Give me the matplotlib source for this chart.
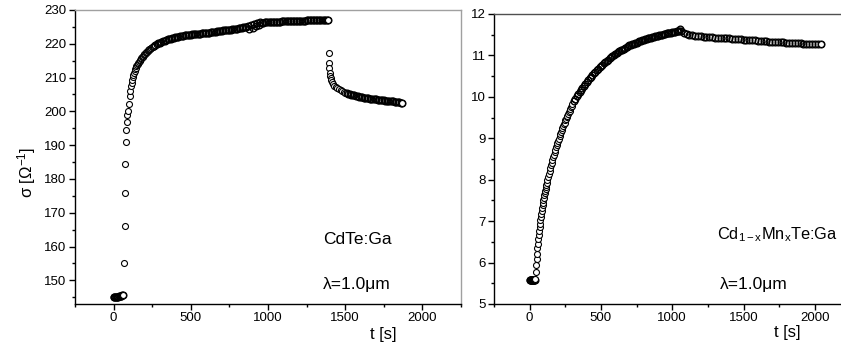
import numpy as np
import matplotlib
matplotlib.use("Agg")
import matplotlib.pyplot as plt
from matplotlib.ticker import MultipleLocator

plt.rcParams['font.family'] = ['Liberation Sans', 'DejaVu Sans']
plt.rcParams['mathtext.fontset'] = 'custom'
plt.rcParams['mathtext.rm'] = 'Liberation Sans'
plt.rcParams['mathtext.it'] = 'Liberation Sans:italic'

# ---- CdTe:Ga (left) : (start time, time step, sigma values) ----
cdte_dark = (0, 5, [145.0, 145.1, 145.0, 145.1, 145.2, 145.1, 145.2, 145.3, 145.3,
                    145.4, 145.5, 145.6, 145.8])
cdte_jump = (68, 3, [155.1, 166.2, 175.9, 184.4, 191.0, 194.5, 197.0, 199.0])
cdte_rise = (96, 4, [200.0, 202.3, 204.5, 206.1, 207.5, 208.5, 209.4, 210.1, 210.8,
                     211.4, 212.0, 212.5, 212.9, 213.3, 213.7, 214.0, 214.3, 214.6,
                     214.9, 215.2, 215.5, 215.8, 216.0, 216.2, 216.5, 216.7, 216.9,
                     217.1, 217.3, 217.5, 217.7, 217.9, 218.1, 218.3, 218.4, 218.6,
                     218.8, 218.9, 219.0, 219.1])
cdte_plateau = (260, 10, [219.3, 219.6, 219.9, 220.1, 220.3, 220.5, 220.7, 220.9, 221.1,
                          221.3, 221.4, 221.5, 221.7, 221.8, 221.9, 222.0, 222.1, 222.3,
                          222.35, 222.4, 222.5, 222.5, 222.6, 222.6, 222.7,
                          222.75, 222.8, 222.85, 222.9, 222.95, 223.0, 223.05, 223.1,
                          223.15, 223.2, 223.3, 223.3, 223.4, 223.4, 223.5,
                          223.6, 223.7, 223.8, 223.8, 223.9,
                          224.0, 224.0, 224.1, 224.1, 224.2, 224.2, 224.3, 224.3,
                          224.4, 224.5, 224.6, 224.7, 224.8, 224.9, 225.0, 225.1, 225.2,
                          224.5, 225.6, 224.8, 226.0, 225.2, 226.2, 225.6, 226.5,
                          226.3, 226.3, 226.35, 226.4, 226.4,
                          226.4, 226.45, 226.45, 226.5, 226.5, 226.5, 226.55, 226.55, 226.6, 226.6,
                          226.6, 226.65, 226.65, 226.7, 226.7, 226.7, 226.75, 226.75, 226.8, 226.8,
                          226.8, 226.85, 226.85, 226.85, 226.9, 226.9, 226.9, 226.95, 226.95, 226.95,
                          227.0, 227.0, 227.0, 227.05, 227.05, 227.05, 227.1, 227.1, 227.1])
cdte_off_t = [1392, 1394, 1396, 1399, 1402, 1405, 1410, 1415, 1420, 1430, 1440, 1450,
              1460, 1470, 1480, 1490, 1500]
cdte_off = [217.4, 214.2, 212.7, 211.3, 210.5, 209.9, 209.2, 208.6, 208.1, 207.6, 207.2,
            206.8, 206.5, 206.2, 205.9, 205.7, 205.5]
cdte_tail = (1510, 10, [205.3, 205.2, 205.0, 204.9, 204.8, 204.7, 204.6, 204.5, 204.4, 204.3,
                        204.2, 204.1, 204.0, 204.0, 203.9, 203.8, 203.8, 203.7, 203.6, 203.6,
                        203.5, 203.4, 203.4, 203.3, 203.3, 203.2, 203.2, 203.1, 203.1, 203.0,
                        203.0, 202.9, 202.9, 202.8, 202.7, 202.6, 202.4])

# ---- Cd1-xMnxTe:Ga (right) ----
cdmn_dark = (0, 3, [5.57, 5.58, 5.58, 5.57, 5.58, 5.59, 5.58, 5.57, 5.58, 5.58, 5.59,
                    5.58, 5.58])
cdmn_rise1 = (40, 3, [5.60, 5.77, 5.93, 6.08, 6.21, 6.34, 6.45, 6.56, 6.67, 6.76, 6.86,
                      6.94, 7.02, 7.10, 7.18, 7.25, 7.31, 7.38, 7.44, 7.50, 7.56, 7.62,
                      7.67, 7.73, 7.78, 7.83, 7.88, 7.93])
cdmn_rise2 = (125, 5, [7.99, 8.07, 8.14, 8.21, 8.28, 8.35, 8.41, 8.48, 8.54, 8.60, 8.66,
                       8.72, 8.78, 8.83, 8.89, 8.94, 8.99, 9.05, 9.10, 9.15, 9.20, 9.24,
                       9.29, 9.34, 9.38, 9.43, 9.47, 9.51, 9.55, 9.59, 9.63, 9.67, 9.71,
                       9.75, 9.79, 9.82])
cdmn_rise3 = (310, 10, [9.89, 9.95, 10.01, 10.07, 10.12, 10.17, 10.22, 10.27, 10.32, 10.36,
                        10.41, 10.45, 10.49, 10.53, 10.57, 10.61, 10.64, 10.68, 10.71, 10.75,
                        10.78, 10.81, 10.85, 10.87, 10.90, 10.93, 10.96, 10.98, 11.01, 11.03,
                        11.06, 11.08, 11.10, 11.12, 11.14, 11.16, 11.18, 11.20, 11.22, 11.24,
                        11.25, 11.27, 11.28, 11.30, 11.31, 11.33, 11.34, 11.35, 11.37, 11.38,
                        11.39, 11.40, 11.41, 11.42, 11.43, 11.44, 11.45, 11.46, 11.47, 11.48,
                        11.49, 11.50, 11.50, 11.51, 11.52, 11.53, 11.54, 11.54, 11.55, 11.56,
                        11.56, 11.57, 11.58, 11.59, 11.60])
cdmn_peak = (1055, 5, [11.63])
cdmn_decay = (1060, 20, [11.60, 11.55, 11.52, 11.50, 11.485, 11.475, 11.465, 11.46, 11.45,
                         11.445, 11.44, 11.435, 11.43, 11.426, 11.422, 11.418, 11.414, 11.41,
                         11.404, 11.398, 11.392, 11.386, 11.38, 11.376, 11.372, 11.368,
                         11.364, 11.36, 11.354, 11.348, 11.342, 11.336, 11.33, 11.326,
                         11.322, 11.318, 11.314, 11.31, 11.306, 11.302, 11.298, 11.294,
                         11.29, 11.287, 11.284, 11.281, 11.278, 11.275, 11.272, 11.27])


def seg(s):
    t0, dt, vals = s
    return t0 + dt * np.arange(len(vals)), np.array(vals)


def style(ax, ylim, ymaj, ymin, top_color, right_color):
    ax.set_xlim(-250, 2250)
    ax.set_ylim(*ylim)
    ax.xaxis.set_major_locator(MultipleLocator(500))
    ax.xaxis.set_minor_locator(MultipleLocator(250))
    ax.yaxis.set_major_locator(MultipleLocator(ymaj))
    ax.yaxis.set_minor_locator(MultipleLocator(ymin))
    ax.tick_params(which='both', direction='out', top=False, right=False, width=1.0,
                   labelsize=9.5, pad=2)
    ax.tick_params(which='major', length=4)
    ax.tick_params(which='minor', length=2.5)
    ax.spines['top'].set_color(top_color)
    ax.spines['right'].set_color(right_color)
    for s in ax.spines.values():
        s.set_linewidth(1.0)


# open circles; where the record is dense the rings merge into a dark band
mk = dict(ls='none', marker='o', ms=4.3, mfc='white', mec='black', mew=0.8)
dense = dict(ls='none', marker='o', ms=4.8, mfc='none', mec='black', mew=1.0)

fig = plt.figure(figsize=(8.41, 3.47), dpi=100)
ax1 = fig.add_axes([75 / 841, 43 / 347, 386 / 841, 294 / 347])
ax2 = fig.add_axes([494 / 841, 43 / 347, 356.5 / 841, 290 / 347])

t, s = seg(cdte_dark)
ax1.plot(t, s, **dense)
ax1.plot(t[-1:], s[-1:], **mk)
ax1.plot(*seg(cdte_jump), **mk)
ax1.plot(*seg(cdte_rise), **mk)
t, s = seg(cdte_plateau)
ax1.plot(t, s, **dense)
ax1.plot(t[-1:], s[-1:], **mk)
ax1.plot(cdte_off_t, cdte_off, **mk)
t, s = seg(cdte_tail)
ax1.plot(t, s, **dense)
ax1.plot(t[-1:], s[-1:], **mk)

t, s = seg(cdmn_dark)
ax2.plot(t, s, **dense)
for sg in [cdmn_rise1, cdmn_rise2]:
    ax2.plot(*seg(sg), **mk)
for sg in [cdmn_rise3, cdmn_peak, cdmn_decay]:
    ax2.plot(*seg(sg), **dense)
t, s = seg(cdmn_decay)
ax2.plot(t[-1:], s[-1:], **mk)

style(ax1, (143, 230), 10, 5, '#a0a0a0', '#a0a0a0')
ax1.set_yticks([150, 160, 170, 180, 190, 200, 210, 220, 230])
style(ax2, (5, 12), 1, 0.5, '#505050', '#505050')

fig.text(27 / 841, 1 - 172 / 347, r'σ [Ω$^{\mathrm{-1}}$]', rotation=90,
         ha='center', va='center', fontsize=12)
fig.text(383 / 841, 1 - 335 / 347, 't [s]', ha='center', va='center', fontsize=12)
fig.text(787 / 841, 1 - 333 / 347, 't [s]', ha='center', va='center', fontsize=12)

fig.text(323 / 841, 1 - 240 / 347, 'CdTe:Ga', ha='left', va='center', fontsize=12.5)
fig.text(323 / 841, 1 - 284 / 347, 'λ=1.0μm', ha='left', va='center', fontsize=12.5)
fig.text(717 / 841, 1 - 235 / 347, r'Cd$_{\mathrm{1-x}}$Mn$_{\mathrm{x}}$Te:Ga',
         ha='left', va='center', fontsize=11.8)
fig.text(720 / 841, 1 - 284 / 347, 'λ=1.0μm', ha='left', va='center', fontsize=12.5)

fig.savefig('out.png', dpi=100)
